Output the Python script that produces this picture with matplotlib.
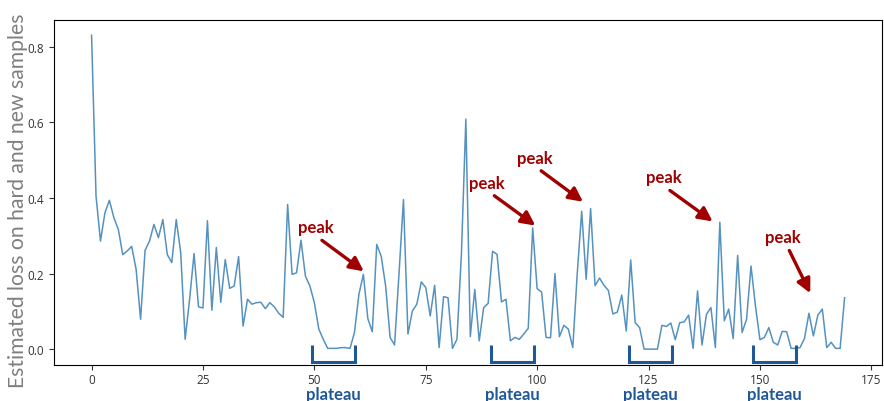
import matplotlib
matplotlib.use("Agg")
import matplotlib.pyplot as plt
import numpy as np

# estimated loss per step
loss = [
    0.831, 0.405, 0.286, 0.361, 0.394, 0.348, 0.317, 0.250, 0.260, 0.272,
    0.211, 0.079, 0.261, 0.286, 0.330, 0.295, 0.343, 0.250, 0.229, 0.343,
    0.256, 0.026, 0.132, 0.253, 0.112, 0.109, 0.340, 0.103, 0.269, 0.124,
    0.237, 0.161, 0.167, 0.245, 0.061, 0.132, 0.119, 0.123, 0.124, 0.107,
    0.123, 0.112, 0.095, 0.084, 0.383, 0.198, 0.202, 0.288, 0.193, 0.167,
    0.123, 0.053, 0.026, 0.002, 0.002, 0.002, 0.004, 0.004, 0.002, 0.044,
    0.145, 0.198, 0.081, 0.046, 0.277, 0.246, 0.167, 0.031, 0.011, 0.200,
    0.396, 0.040, 0.101, 0.119, 0.178, 0.163, 0.088, 0.169, 0.004, 0.139,
    0.136, 0.002, 0.026, 0.250, 0.609, 0.033, 0.158, 0.022, 0.110, 0.121,
    0.259, 0.251, 0.125, 0.132, 0.022, 0.031, 0.026, 0.040, 0.055, 0.321,
    0.160, 0.151, 0.031, 0.030, 0.200, 0.033, 0.063, 0.053, 0.004, 0.200,
    0.365, 0.185, 0.372, 0.168, 0.188, 0.169, 0.155, 0.093, 0.098, 0.143,
    0.048, 0.236, 0.070, 0.057, 0.000, 0.000, 0.000, 0.000, 0.063, 0.060,
    0.069, 0.025, 0.070, 0.072, 0.090, 0.002, 0.154, 0.011, 0.092, 0.110,
    0.004, 0.336, 0.075, 0.106, 0.028, 0.248, 0.044, 0.079, 0.220, 0.114,
    0.025, 0.031, 0.057, 0.018, 0.011, 0.047, 0.046, 0.002, 0.002, 0.004,
    0.028, 0.095, 0.035, 0.090, 0.106, 0.004, 0.018, 0.002, 0.002, 0.136,
]
steps = np.arange(len(loss))

# plateau spans (step start, step end)
plateaus = [(49.5, 59.1), (89.6, 99.3), (120.6, 130.2), (148.4, 158.0)]

# peak labels: text pos, arrow tail, arrow tip (data coords)
peaks = [
    ((50.3, 0.322), (51.7, 0.288), (61.1, 0.206)),
    ((88.8, 0.441), (90.4, 0.406), (99.6, 0.327)),
    ((99.4, 0.507), (100.9, 0.472), (110.3, 0.390)),
    ((128.4, 0.456), (129.8, 0.420), (139.4, 0.338)),
    ((155.1, 0.296), (156.6, 0.261), (161.3, 0.148)),
]

red = "#a00000"
blue = "#1f5799"

fig = plt.figure(figsize=(8.84, 4.02), dpi=100)
ax = fig.add_axes([0.061, 0.09, 0.937, 0.859])

ax.plot(steps, loss, color="#5592c0", lw=1.1)
ax.set_xticks([0, 25, 50, 75, 100, 125, 150, 175])
ax.set_yticks([0.0, 0.2, 0.4, 0.6, 0.8])
ax.tick_params(labelsize=8.5, colors="#333333", length=3.5)
ax.tick_params(axis="x", pad=2.5)
for lab in ax.get_xticklabels() + ax.get_yticklabels():
    lab.set_family("Open Sans")

for (txt, tail, tip) in peaks:
    ax.text(txt[0], txt[1], "peak", color=red, fontsize=12, fontweight="bold",
            family="Lato", ha="center", va="center")
    ax.annotate("", xy=tip, xytext=tail,
                arrowprops=dict(arrowstyle="-|>", color=red, lw=2.4,
                                mutation_scale=21, shrinkA=0, shrinkB=0))

for (a, b) in plateaus:
    ax.plot([a, a, b, b], [0.011, -0.034, -0.034, 0.011], color=blue, lw=2.2,
            solid_capstyle="butt", solid_joinstyle="miter", clip_on=False,
            scalex=False, scaley=False)
    ax.annotate("plateau", xy=((a + b) / 2, 7), xycoords=("data", "figure pixels"),
                color=blue, fontsize=12, fontweight="bold", family="Lato",
                ha="center", va="center")

fig.text(0.02, 0.5, "Estimated loss on hard and new samples", rotation=90,
         color="#7f7f7f", fontsize=15.2, family="Lato", ha="center", va="center")

fig.savefig("out.png", dpi=100)
